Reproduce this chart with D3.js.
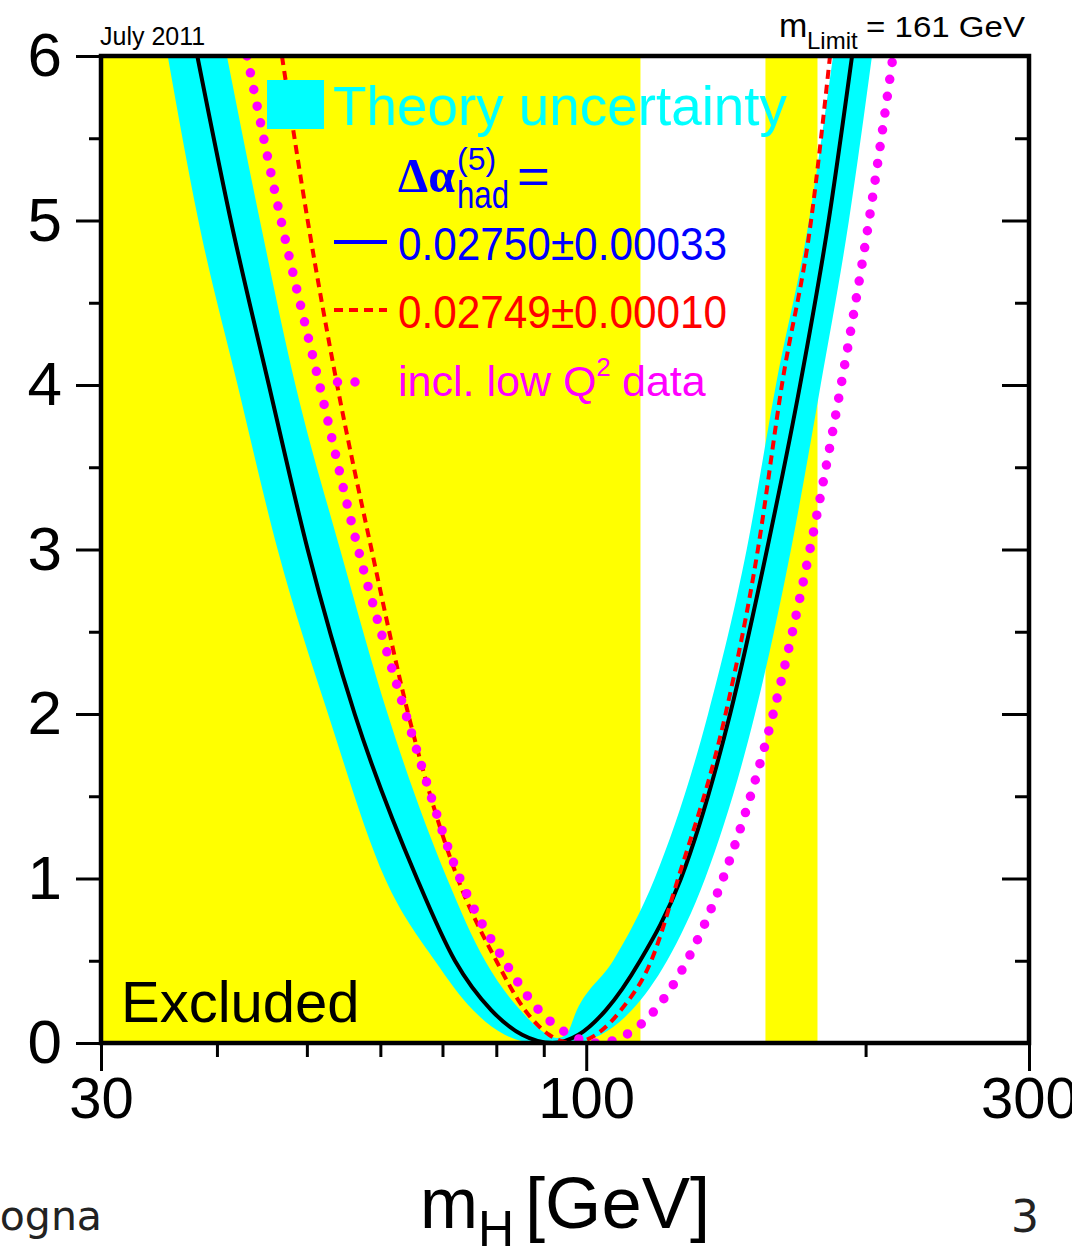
<!DOCTYPE html>
<html>
<head>
<meta charset="utf-8">
<script src="https://cdn.jsdelivr.net/npm/d3@7"></script>
<style>
  html, body { margin: 0; padding: 0; background: #fff; }
  svg { display: block; }
</style>
</head>
<body>
<svg id="chart" width="1072" height="1246"></svg>
<script>
const LEVELS = [6, 5, 4, 3, 2, 1, 0.5, 0.2, 0.05];

// black solid curve (central fit), mH in GeV at each level
const FIT_LEFT = [38.1, 41.4, 45.5, 50.1, 56.3, 65.7, 72.2, 79.0, 85.3];
const FIT_RIGHT = [193.4, 182.5, 170.0, 156.6, 142.9, 126.5, 114.3, 105.0, 98.1];
const FIT_MIN = [92.0, 0];

// red dashed curve
const ALT_LEFT = [47.0, 50.1, 53.9, 58.7, 64.3, 72.7, 80.0, 85.9, 91.2];
const ALT_RIGHT = [183.1, 174.7, 162.5, 153.1, 141.3, 125.6, 117.5, 109.0, 102.4];
const ALT_MIN = [96.5, 0];

// magenta dotted curve
const LOWQ_LEFT = [43.1, 46.9, 51.6, 56.8, 63.9, 73.1, 81.6, 88.9, 96.0];
const LOWQ_RIGHT = [214.1, 201.7, 188.2, 174.2, 159.0, 140.4, 128.4, 118.6, 110.4];
const LOWQ_MIN = [103.0, 0];

// cyan theory band: outer edge (lower delta chi^2) and inner edge (upper)
const BAND_OUT_LEFT = [35.4, 38.2, 42.1, 46.5, 52.7, 60.7, 68.7, 75.5, 81.7];
const BAND_OUT_RIGHT = [203.2, 191.9, 178.9, 166.2, 152.0, 134.3, 122.2, 112.0, 103.7];
const BAND_OUT_FLOOR = [88.5, 96.1];
const BAND_IN_LEFT = [41.0, 44.5, 48.6, 54.3, 61.1, 70.8, 77.8, 84.9, 91.0];
const BAND_IN_RIGHT = [184.5, 173.8, 160.1, 148.9, 135.3, 118.5, 106.9, 97.7, 95.1];
const BAND_IN_MIN = [93.0, 0.03];

// excluded mass ranges (yellow)
const EXCL_FROM = [30, 156.0];
const EXCL_TO = [114.4, 177.5];

// ticks
const Y_MAJOR = [0, 1, 2, 3, 4, 5, 6];
const Y_MINOR = [0.5, 1.5, 2.5, 3.5, 4.5, 5.5];
const X_MAJOR = [30, 100, 300];
const X_MINOR = [40, 50, 60, 70, 80, 90, 200];

// frame
const LEFT = 101, RIGHT = 1029, TOP = 56, BOTTOM = 1043;
const SANS = "'Liberation Sans', Arial, Helvetica, sans-serif";

const svg = d3.select('#chart');
svg.append('rect').attr('width', 1072).attr('height', 1246).attr('fill', '#fff');

const x = d3.scaleLog().domain([30, 300]).range([LEFT, RIGHT]);
const y = d3.scaleLinear().domain([0, 6]).range([BOTTOM, TOP]);

svg.append('clipPath').attr('id', 'plotClip')
    .append('rect')
    .attr('x', LEFT).attr('y', TOP)
    .attr('width', RIGHT - LEFT).attr('height', BOTTOM - TOP);

const plot = svg.append('g').attr('clip-path', 'url(#plotClip)');

// yellow excluded regions
plot.selectAll('rect.excl')
    .data(EXCL_FROM.map((d, i) => [d, EXCL_TO[i]]))
    .join('rect')
    .attr('class', 'excl')
    .attr('x', d => x(d[0]))
    .attr('width', d => x(d[1]) - x(d[0]))
    .attr('y', TOP)
    .attr('height', BOTTOM - TOP)
    .attr('fill', '#ffff00');

// helper: build a U shaped curve from the two branches
function uCurve(left, right, bottom) {
    const pts = left.map((m, i) => [m, LEVELS[i]]);
    bottom.forEach(p => pts.push(p));
    for (let i = LEVELS.length - 1; i >= 0; i--) {
        pts.push([right[i], LEVELS[i]]);
    }
    return pts;
}

const line = d3.line()
    .x(d => x(d[0]))
    .y(d => y(d[1]))
    .curve(d3.curveMonotoneX);

// theory band = outer U minus inner U
const outer = uCurve(BAND_OUT_LEFT, BAND_OUT_RIGHT, BAND_OUT_FLOOR.map(m => [m, 0]));
const inner = uCurve(BAND_IN_LEFT, BAND_IN_RIGHT, [BAND_IN_MIN]);
plot.append('path')
    .attr('d', line(outer) + 'Z' + line(inner) + 'Z')
    .attr('fill', '#00ffff')
    .attr('fill-rule', 'evenodd');

// black central curve
plot.append('path')
    .attr('d', line(uCurve(FIT_LEFT, FIT_RIGHT, [FIT_MIN])))
    .attr('fill', 'none')
    .attr('stroke', '#000')
    .attr('stroke-width', 4);

// red dashed curve
plot.append('path')
    .attr('d', line(uCurve(ALT_LEFT, ALT_RIGHT, [ALT_MIN])))
    .attr('fill', 'none')
    .attr('stroke', '#ff0000')
    .attr('stroke-width', 4)
    .attr('stroke-dasharray', '9 6');

// magenta dotted curve
plot.append('path')
    .attr('d', line(uCurve(LOWQ_LEFT, LOWQ_RIGHT, [LOWQ_MIN])))
    .attr('fill', 'none')
    .attr('stroke', '#ff00ff')
    .attr('stroke-width', 9.5)
    .attr('stroke-linecap', 'round')
    .attr('stroke-dasharray', '0 17');

// frame
svg.append('rect')
    .attr('x', LEFT).attr('y', TOP)
    .attr('width', RIGHT - LEFT).attr('height', BOTTOM - TOP)
    .attr('fill', 'none')
    .attr('stroke', '#000')
    .attr('stroke-width', 4.5);

// axes
function styleAxis(g, fontSize) {
    g.select('.domain').remove();
    g.selectAll('line').attr('stroke', '#000').attr('stroke-width', 3);
    g.selectAll('text')
        .attr('fill', '#000')
        .style('font-family', SANS)
        .style('font-size', fontSize + 'px');
}

svg.append('g').attr('transform', `translate(${LEFT},0)`)
    .call(d3.axisLeft(y).tickValues(Y_MAJOR).tickSize(25).tickPadding(14).tickFormat(d3.format('d')))
    .call(g => styleAxis(g, 62));
svg.append('g').attr('transform', `translate(${LEFT},0)`)
    .call(d3.axisLeft(y).tickValues(Y_MINOR).tickSize(12).tickFormat(''))
    .call(g => styleAxis(g, 10));
svg.append('g').attr('transform', `translate(${RIGHT},0)`)
    .call(d3.axisRight(y).tickValues(Y_MAJOR).tickSize(-27).tickFormat(''))
    .call(g => styleAxis(g, 10));
svg.append('g').attr('transform', `translate(${RIGHT},0)`)
    .call(d3.axisRight(y).tickValues(Y_MINOR).tickSize(-14).tickFormat(''))
    .call(g => styleAxis(g, 10));

svg.append('g').attr('transform', `translate(0,${BOTTOM})`)
    .call(d3.axisBottom(x).tickValues(X_MAJOR).tickSize(28).tickPadding(6).tickFormat(d3.format('d')))
    .call(g => styleAxis(g, 58));
svg.append('g').attr('transform', `translate(0,${BOTTOM})`)
    .call(d3.axisBottom(x).tickValues(X_MINOR).tickSize(14).tickFormat(''))
    .call(g => styleAxis(g, 10));

// legend
const legend = svg.append('g');
legend.append('rect')
    .attr('x', 267).attr('y', 80).attr('width', 57).attr('height', 49)
    .attr('fill', '#00ffff');
legend.append('text')
    .attr('x', 333).attr('y', 125)
    .attr('textLength', 454).attr('lengthAdjust', 'spacingAndGlyphs')
    .style('font-family', SANS).style('font-size', '56px')
    .attr('fill', '#00ffff')
    .text('Theory uncertainty');

legend.append('text')
    .attr('x', 398).attr('y', 192)
    .attr('textLength', 57).attr('lengthAdjust', 'spacingAndGlyphs')
    .style('font-family', "'Liberation Serif', 'Times New Roman', serif")
    .style('font-weight', 'bold').style('font-size', '48px')
    .attr('fill', '#0000ff')
    .text('Δα');
legend.append('text')
    .attr('x', 457).attr('y', 170)
    .style('font-family', SANS).style('font-size', '32px')
    .attr('fill', '#0000ff')
    .text('(5)');
legend.append('text')
    .attr('x', 457).attr('y', 208)
    .attr('textLength', 52).attr('lengthAdjust', 'spacingAndGlyphs')
    .style('font-family', SANS).style('font-size', '38px')
    .attr('fill', '#0000ff')
    .text('had');
legend.append('text')
    .attr('x', 517).attr('y', 193)
    .attr('textLength', 33).attr('lengthAdjust', 'spacingAndGlyphs')
    .style('font-family', SANS).style('font-size', '50px')
    .attr('fill', '#0000ff')
    .text('=');

legend.append('line')
    .attr('x1', 334).attr('x2', 387).attr('y1', 242).attr('y2', 242)
    .attr('stroke', '#0000ff').attr('stroke-width', 4);
legend.append('text')
    .attr('x', 398).attr('y', 260)
    .attr('textLength', 329).attr('lengthAdjust', 'spacingAndGlyphs')
    .style('font-family', SANS).style('font-size', '46px')
    .attr('fill', '#0000ff')
    .text('0.02750±0.00033');

legend.append('line')
    .attr('x1', 334).attr('x2', 387).attr('y1', 310).attr('y2', 310)
    .attr('stroke', '#ff0000').attr('stroke-width', 4)
    .attr('stroke-dasharray', '9 6');
legend.append('text')
    .attr('x', 398).attr('y', 328)
    .attr('textLength', 329).attr('lengthAdjust', 'spacingAndGlyphs')
    .style('font-family', SANS).style('font-size', '46px')
    .attr('fill', '#ff0000')
    .text('0.02749±0.00010');

legend.append('line')
    .attr('x1', 337.5).attr('x2', 372.5).attr('y1', 382).attr('y2', 382)
    .attr('stroke', '#ff00ff').attr('stroke-width', 9.5)
    .attr('stroke-linecap', 'round').attr('stroke-dasharray', '0 17.5');
const lowq = legend.append('text')
    .attr('x', 398).attr('y', 396)
    .style('font-family', SANS).style('font-size', '43px')
    .attr('fill', '#ff00ff');
lowq.append('tspan').text('incl. low Q');
lowq.append('tspan').attr('dy', -20).style('font-size', '26px').text('2');
lowq.append('tspan').attr('x', 622).attr('dy', 20).text('data');

// annotations
svg.append('text')
    .attr('x', 121).attr('y', 1022)
    .style('font-family', SANS).style('font-size', '58px')
    .text('Excluded');

svg.append('text')
    .attr('x', 100).attr('y', 45)
    .style('font-family', SANS).style('font-size', '25px')
    .text('July 2011');

svg.append('text')
    .attr('x', 779).attr('y', 37)
    .style('font-family', SANS).style('font-size', '34px')
    .text('m');
svg.append('text')
    .attr('x', 807).attr('y', 49)
    .style('font-family', SANS).style('font-size', '24px')
    .text('Limit');
svg.append('text')
    .attr('x', 866).attr('y', 37)
    .attr('textLength', 159).attr('lengthAdjust', 'spacingAndGlyphs')
    .style('font-family', SANS).style('font-size', '30px')
    .text('= 161 GeV');

// x axis title
svg.append('text')
    .attr('x', 420).attr('y', 1228)
    .attr('textLength', 58).attr('lengthAdjust', 'spacingAndGlyphs')
    .style('font-family', SANS).style('font-size', '72px')
    .text('m');
svg.append('text')
    .attr('x', 478).attr('y', 1246)
    .style('font-family', SANS).style('font-size', '50px')
    .text('H');
svg.append('text')
    .attr('x', 525).attr('y', 1228)
    .attr('textLength', 185).attr('lengthAdjust', 'spacingAndGlyphs')
    .style('font-family', SANS).style('font-size', '72px')
    .text('[GeV]');

// slide footer
svg.append('text')
    .attr('x', 102).attr('y', 1230)
    .attr('text-anchor', 'end')
    .style('font-family', "'DejaVu Sans', sans-serif").style('font-size', '41px')
    .attr('fill', '#222')
    .text('Bologna');
svg.append('text')
    .attr('x', 1025).attr('y', 1232)
    .attr('text-anchor', 'middle')
    .style('font-family', "'DejaVu Sans', sans-serif").style('font-size', '44px')
    .attr('fill', '#222')
    .text('3');
</script>
</body>
</html>
